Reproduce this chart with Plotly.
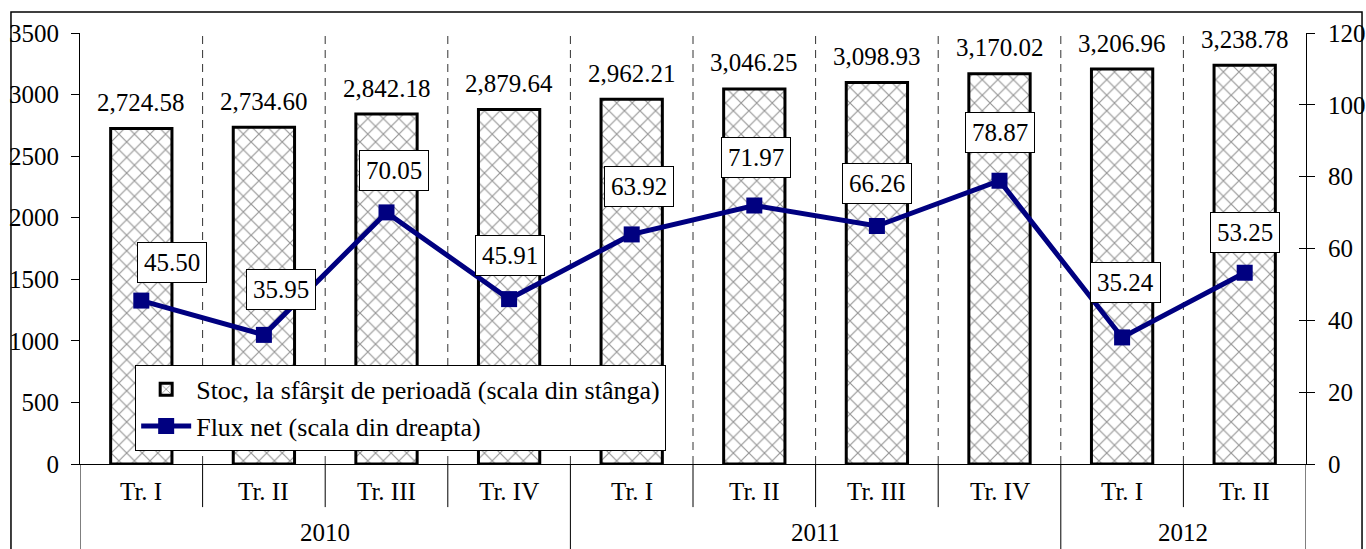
import plotly.graph_objects as go

# ---- data ----
quarters = ["Tr. I", "Tr. II", "Tr. III", "Tr. IV", "Tr. I", "Tr. II", "Tr. III", "Tr. IV", "Tr. I", "Tr. II"]
years = ["2010", "2010", "2010", "2010", "2011", "2011", "2011", "2011", "2012", "2012"]
stoc = [2724.58, 2734.60, 2842.18, 2879.64, 2962.21, 3046.25, 3098.93, 3170.02, 3206.96, 3238.78]
flux = [45.50, 35.95, 70.05, 45.91, 63.92, 71.97, 66.26, 78.87, 35.24, 53.25]
name_stoc = "Stoc, la sfârşit de perioadă (scala din stânga)"
name_flux = "Flux net (scala din dreapta)"

# ---- style ----
FONT = "Liberation Serif"
FS = 25
NAVY = "#000080"
# pixel offsets of the boxed flux labels relative to their points (style only)
box_dx = [31, 17, 7, 1, 7, 2, 0, 0, 3, 0]
box_dy = [38, 45, 42, 44, 48, 48, 43, 48, 55, 40]

xkeys = [f"{y} {q} {i}" for i, (y, q) in enumerate(zip(years, quarters))]
n = len(xkeys)

fig = go.Figure()
fig.add_trace(go.Bar(
    x=xkeys, y=stoc, name=name_stoc, width=0.5,
    marker=dict(color="white", line=dict(color="black", width=3),
                pattern=dict(shape="x", fgcolor="#2a2a2a", bgcolor="white", size=11, solidity=0.2)),
    yaxis="y",
))
fig.add_trace(go.Scatter(
    x=xkeys, y=flux, name=name_flux, mode="lines+markers",
    line=dict(color=NAVY, width=5),
    marker=dict(symbol="square", size=16, color=NAVY),
    yaxis="y2",
))

annotations = []
# bar value labels
for i, v in enumerate(stoc):
    annotations.append(dict(x=i, y=v, xref="x", yref="y", text=f"{v:,.2f}", showarrow=False,
                            yanchor="middle", yshift=26, font=dict(family=FONT, size=FS, color="black")))
# flux labels in boxes
for i, v in enumerate(flux):
    annotations.append(dict(x=i, y=v, xref="x", yref="y2", text=f"{v:.2f}", showarrow=False,
                            xshift=box_dx[i], yshift=box_dy[i], yanchor="middle",
                            bgcolor="white", bordercolor="black", borderwidth=1, borderpad=6,
                            font=dict(family=FONT, size=FS, color="black")))
# quarter labels
for i, q in enumerate(quarters):
    annotations.append(dict(x=i, y=-0.063, xref="x", yref="paper", text=q, showarrow=False,
                            yanchor="middle", font=dict(family=FONT, size=FS, color="black")))
# year labels
ylist = []
for y in years:
    if y not in ylist:
        ylist.append(y)
for y in ylist:
    idx = [i for i, yy in enumerate(years) if yy == y]
    annotations.append(dict(x=sum(idx) / len(idx), y=-0.158, xref="x", yref="paper", text=y, showarrow=False,
                            yanchor="middle", font=dict(family=FONT, size=FS, color="black")))

shapes = []
# dashed separators inside plot
for i in range(n - 1):
    shapes.append(dict(type="line", xref="x", yref="paper", x0=i + 0.5, x1=i + 0.5, y0=0, y1=1,
                       line=dict(color="#333333", width=1, dash="8px,6px"), layer="below"))
# separators in the category rows
for i in range(n + 1):
    b = i - 0.5
    year_boundary = (i == 0) or (i == n) or (years[i] != years[i - 1])
    y0 = -0.4 if year_boundary else -0.1
    shapes.append(dict(type="line", xref="x", yref="paper", x0=b, x1=b, y0=y0, y1=0,
                       line=dict(color="black", width=1)))
# outer frame
shapes.append(dict(type="rect", xref="paper", yref="paper", x0=-0.0563, x1=1.0457, y0=-0.5, y1=1.0487,
                   line=dict(color="black", width=1.5), fillcolor="rgba(0,0,0,0)"))

fig.update_layout(
    width=1366, height=549,
    margin=dict(l=80, r=60, t=33, b=85, autoexpand=False),
    paper_bgcolor="white", plot_bgcolor="white",
    font=dict(family=FONT, size=FS, color="black"),
    barmode="overlay",
    xaxis=dict(type="category", range=[-0.5, n - 0.5], showticklabels=False, ticks="",
               showline=True, linecolor="black", linewidth=1, showgrid=False, zeroline=False,
               automargin=False),
    yaxis=dict(range=[0, 3500], dtick=500, ticks="outside", ticklen=8, tickcolor="black",
               showline=True, linecolor="black", linewidth=1, showgrid=False, zeroline=False,
               tickfont=dict(family=FONT, size=FS), automargin=False, ticklabelstandoff=7),
    yaxis2=dict(range=[0, 120], dtick=20, overlaying="y", side="right", ticks="outside", ticklen=8,
                tickcolor="black", showline=True, linecolor="black", linewidth=1, showgrid=False,
                zeroline=False, tickfont=dict(family=FONT, size=FS), automargin=False,
                ticklabelstandoff=8),
    yaxis3=dict(range=[0, 120], dtick=20, overlaying="y", side="right", ticks="inside", ticklen=7,
                tickcolor="black", showline=False, showgrid=False, zeroline=False,
                showticklabels=False, automargin=False),
    legend=dict(x=0.045, y=0.23, xanchor="left", yanchor="top", bgcolor="white",
                bordercolor="black", borderwidth=1, font=dict(family=FONT, size=26),
                itemwidth=50, tracegroupgap=0),
    showlegend=True,
    annotations=annotations,
    shapes=shapes,
)
# invisible copy of the flux series on the inner-tick axis so that its ticks are drawn
fig.add_trace(go.Scatter(x=xkeys, y=flux, yaxis="y3", mode="lines", line=dict(width=0),
                         hoverinfo="skip", showlegend=False, opacity=0))

fig.write_html("out.html", config={"displayModeBar": False},
               post_script="document.body.style.margin='0px';")
